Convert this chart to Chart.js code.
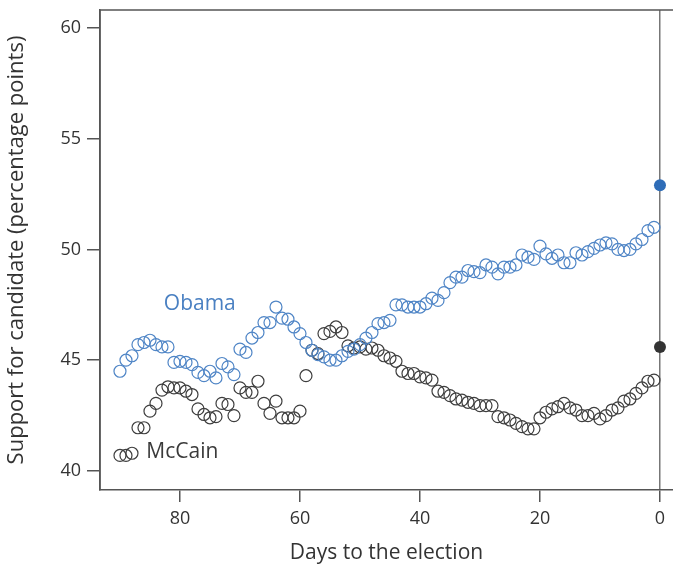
<!DOCTYPE html>
<html>
<head>
<meta charset="utf-8">
<script src="https://cdn.jsdelivr.net/npm/chart.js@4.4.1/dist/chart.umd.min.js"></script>
<style>
  html, body { margin: 0; padding: 0; background: #fff; }
  #wrap { width: 673px; height: 566px; position: relative; }
</style>
</head>
<body>
<div id="wrap"><canvas id="c" width="673" height="566"></canvas></div>
<script>
// Days remaining before the election (one poll average per day)
const days = [90, 89, 88, 87, 86, 85, 84, 83, 82, 81, 80, 79, 78, 77, 76, 75, 74, 73, 72, 71,
              70, 69, 68, 67, 66, 65, 64, 63, 62, 61, 60, 59, 58, 57, 56, 55, 54, 53, 52, 51,
              50, 49, 48, 47, 46, 45, 44, 43, 42, 41, 40, 39, 38, 37, 36, 35, 34, 33, 32, 31,
              30, 29, 28, 27, 26, 25, 24, 23, 22, 21, 20, 19, 18, 17, 16, 15, 14, 13, 12, 11,
              10, 9, 8, 7, 6, 5, 4, 3, 2, 1];

// Daily support for Obama (percentage points)
const obama = [44.5, 45.0, 45.2, 45.7, 45.8, 45.9, 45.7, 45.6, 45.6, 44.9,
               44.95, 44.9, 44.8, 44.45, 44.3, 44.5, 44.2, 44.85, 44.7, 44.35,
               45.5, 45.35, 46.0, 46.25, 46.7, 46.7, 47.4, 46.9, 46.85, 46.5,
               46.2, 45.8, 45.45, 45.25, 45.15, 45.0, 45.0, 45.2, 45.4, 45.5,
               45.7, 46.0, 46.25, 46.65, 46.7, 46.8, 47.5, 47.5, 47.4, 47.4,
               47.4, 47.55, 47.8, 47.7, 48.05, 48.5, 48.75, 48.75, 49.05, 49.0,
               48.95, 49.3, 49.2, 48.9, 49.2, 49.2, 49.3, 49.75, 49.65, 49.55,
               50.15, 49.8, 49.6, 49.75, 49.4, 49.4, 49.85, 49.75, 49.9, 50.05,
               50.2, 50.3, 50.25, 50.0, 49.95, 50.0, 50.25, 50.45, 50.85, 51.0];

// Daily support for McCain (percentage points)
const mccain = [40.7, 40.7, 40.8, 41.95, 41.95, 42.7, 43.05, 43.65, 43.8, 43.75,
                43.75, 43.6, 43.45, 42.8, 42.55, 42.4, 42.45, 43.05, 43.0, 42.5,
                43.75, 43.55, 43.55, 44.05, 43.05, 42.6, 43.15, 42.4, 42.4, 42.4,
                42.7, 44.3, 45.45, 45.3, 46.2, 46.3, 46.5, 46.25, 45.65, 45.55,
                45.6, 45.5, 45.55, 45.45, 45.2, 45.1, 44.95, 44.5, 44.4, 44.4,
                44.25, 44.2, 44.1, 43.6, 43.55, 43.4, 43.25, 43.2, 43.1, 43.05,
                42.95, 42.95, 42.95, 42.45, 42.4, 42.3, 42.15, 42.0, 41.9, 41.9,
                42.4, 42.65, 42.8, 42.9, 43.05, 42.85, 42.75, 42.5, 42.5, 42.6,
                42.35, 42.5, 42.75, 42.85, 43.15, 43.25, 43.5, 43.75, 44.05, 44.1];

// Election-day results
const resultDay = 0;
const obamaResult = 52.9;
const mccainResult = 45.6;

// Axis ticks
const xTicks = [80, 60, 40, 20, 0];
const yTicks = [40, 45, 50, 55, 60];

// Series name labels, placed in data coordinates
const nameLabels = [
  { text: 'Obama',  day: 76.7, value: 47.55, color: '#4a80c2' },
  { text: 'McCain', day: 79.6, value: 40.85, color: '#3a3a3a' }
];

const BLUE = '#4f85c6';
const DARK = '#3e3e3e';
const AXIS = '#555555';
const FONT = '"Open Sans", "DejaVu Sans", sans-serif';

const toPoints = (xs, ys) => xs.map((d, i) => ({ x: d, y: ys[i] }));

// Frame lines (top and left edges) plus the series name labels
const framePlugin = {
  id: 'frame',
  afterDraw(chart) {
    const { ctx, chartArea: a, scales } = chart;
    ctx.save();
    ctx.strokeStyle = AXIS;
    ctx.lineWidth = 1.5;
    ctx.beginPath();
    ctx.moveTo(a.left, a.bottom);
    ctx.lineTo(a.left, a.top);
    ctx.lineTo(a.right, a.top);
    ctx.stroke();
    ctx.font = '21px ' + FONT;
    ctx.textAlign = 'center';
    ctx.textBaseline = 'middle';
    nameLabels.forEach(l => {
      ctx.fillStyle = l.color;
      ctx.fillText(l.text, scales.x.getPixelForValue(l.day), scales.y.getPixelForValue(l.value));
    });
    ctx.restore();
  }
};

new Chart(document.getElementById('c'), {
  type: 'scatter',
  data: {
    datasets: [
      {
        label: 'Obama',
        data: toPoints(days, obama),
        pointStyle: 'circle',
        pointRadius: 6,
        pointBorderWidth: 1.2,
        borderColor: BLUE,
        backgroundColor: 'rgba(0,0,0,0)'
      },
      {
        label: 'McCain',
        data: toPoints(days, mccain),
        pointStyle: 'circle',
        pointRadius: 6,
        pointBorderWidth: 1.2,
        borderColor: DARK,
        backgroundColor: 'rgba(0,0,0,0)'
      },
      {
        label: 'Obama result',
        data: [{ x: resultDay, y: obamaResult }],
        pointRadius: 6,
        pointBorderWidth: 0,
        borderColor: '#2f6db8',
        backgroundColor: '#2f6db8'
      },
      {
        label: 'McCain result',
        data: [{ x: resultDay, y: mccainResult }],
        pointRadius: 6,
        pointBorderWidth: 0,
        borderColor: '#333333',
        backgroundColor: '#333333'
      }
    ]
  },
  options: {
    responsive: false,
    animation: false,
    layout: { autoPadding: false, padding: { top: 10, right: 0, left: 0, bottom: 0 } },
    plugins: { legend: { display: false }, tooltip: { enabled: false } },
    scales: {
      x: {
        type: 'linear',
        reverse: true,
        min: -2.17,
        max: 93.33,
        afterBuildTicks: s => { s.ticks = xTicks.map(v => ({ value: v })); },
        afterFit: s => { s.height = 76; s.paddingLeft = 0; s.paddingRight = 0; },
        border: { display: true, color: AXIS, width: 1.5 },
        grid: {
          drawOnChartArea: true,
          drawTicks: true,
          tickLength: 12,
          lineWidth: 1.5,
          color: c => (c.tick && c.tick.value === 0 ? '#777777' : 'rgba(0,0,0,0)'),
          tickColor: AXIS
        },
        ticks: {
          color: '#333333',
          font: { family: FONT, size: 18 },
          padding: 6,
          maxRotation: 0
        },
        title: {
          display: true,
          text: 'Days to the election',
          color: '#333333',
          font: { family: FONT, size: 21 },
          padding: { top: 3, bottom: 0 }
        }
      },
      y: {
        min: 39.14,
        max: 60.81,
        afterBuildTicks: s => { s.ticks = yTicks.map(v => ({ value: v })); },
        afterFit: s => { s.width = 100; s.paddingTop = 0; s.paddingBottom = 0; },
        border: { display: true, color: AXIS, width: 1.5 },
        grid: {
          drawOnChartArea: false,
          drawTicks: true,
          tickLength: 13,
          lineWidth: 1.5,
          tickColor: AXIS
        },
        ticks: {
          color: '#333333',
          font: { family: FONT, size: 18 },
          padding: 6
        },
        title: {
          display: true,
          text: 'Support for candidate (percentage points)',
          color: '#333333',
          font: { family: FONT, size: 22 },
          padding: { top: 4, bottom: 4 }
        }
      }
    }
  },
  plugins: [framePlugin]
});
</script>
</body>
</html>
